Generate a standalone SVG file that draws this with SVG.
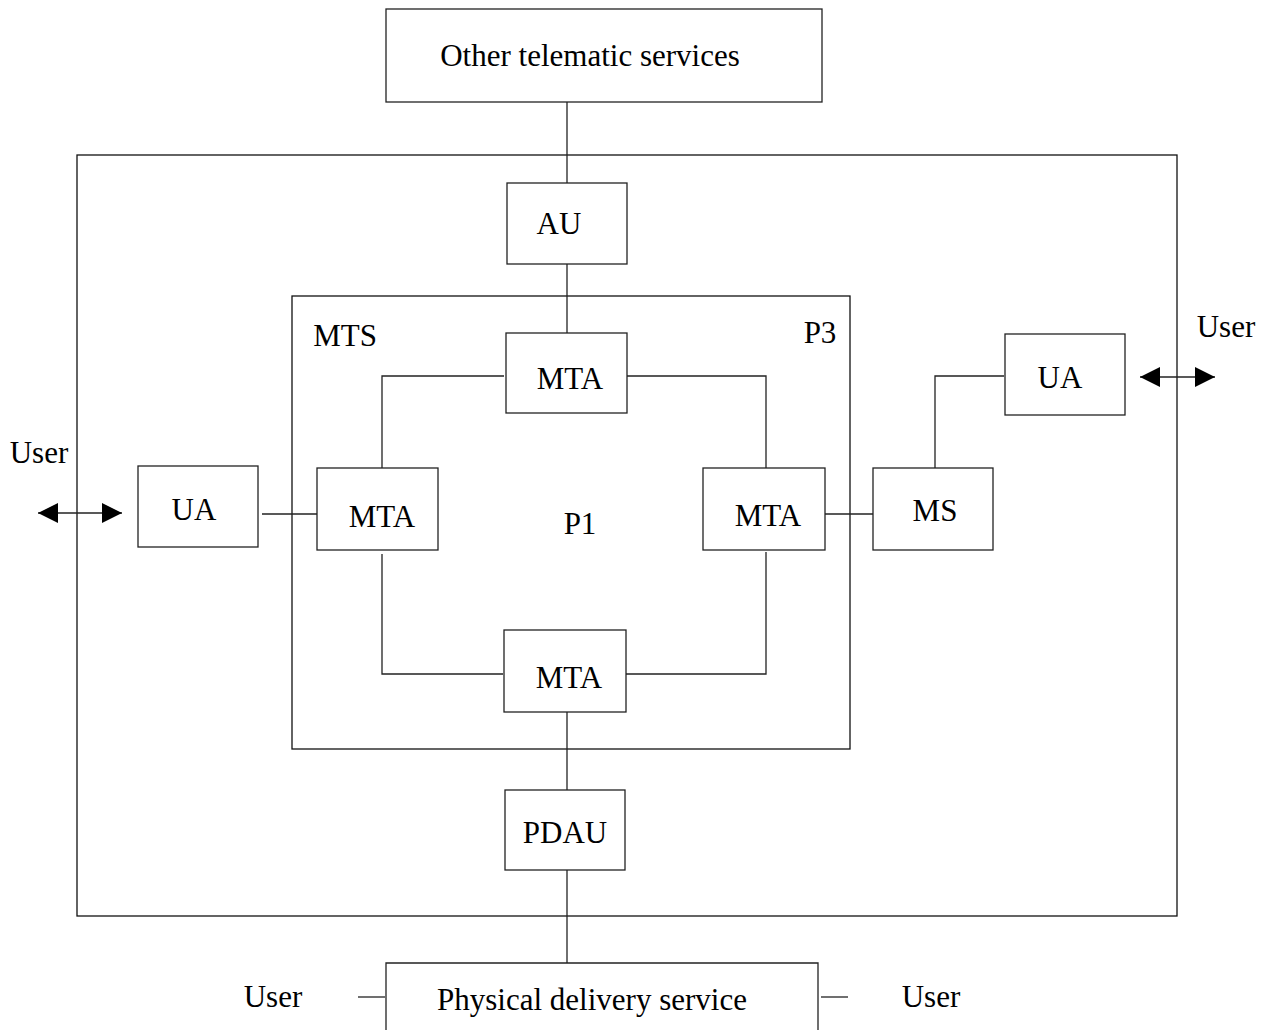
<svg xmlns="http://www.w3.org/2000/svg" width="1263" height="1030" viewBox="0 0 1263 1030">
  <style>
    .box { fill: #fff; stroke: #222; stroke-width: 1.3; }
    .frame { fill: none; stroke: #111; stroke-width: 1.3; }
    .wire { fill: none; stroke: #222; stroke-width: 1.3; }
    .lbl { font-family: "Liberation Serif", "Times New Roman", serif; font-size: 31px; fill: #000; text-anchor: middle; dominant-baseline: central; }
  </style>
  <defs>
    <marker id="tri" viewBox="0 0 10 10" refX="10" refY="5" markerWidth="20" markerHeight="20" markerUnits="userSpaceOnUse" orient="auto-start-reverse">
      <path d="M0,0 L10,5 L0,10 Z" fill="#000"/>
    </marker>
  </defs>

  <rect width="1263" height="1030" fill="#fff"/>

  <!-- enclosing frames -->
  <g id="outer-domain"><rect class="frame" x="77" y="155" width="1100" height="761"/></g>
  <g id="mts">
    <rect class="frame" x="292" y="296" width="558" height="453"/>
    <text class="lbl" x="345" y="335">MTS</text>
    <text class="lbl" x="820" y="332">P3</text>
    <text class="lbl" x="580" y="523">P1</text>
  </g>

  <!-- connectors -->
  <g id="connectors">
    <path class="wire" d="M567,102 V183"/>
    <path class="wire" d="M567,264 V333"/>
    <path class="wire" d="M504,376 H382 V468"/>
    <path class="wire" d="M625,376 H766 V468"/>
    <path class="wire" d="M382,554 V674 H503"/>
    <path class="wire" d="M766,552 V674 H625"/>
    <path class="wire" d="M567,712 V790"/>
    <path class="wire" d="M567,870 V963"/>
    <path class="wire" d="M262,514 H321"/>
    <path class="wire" d="M825,514 H875"/>
    <path class="wire" d="M935,468 V376 H1004"/>
    <path class="wire" d="M358,997 H385"/>
    <path class="wire" d="M821,997 H848"/>
    <path class="wire" d="M38,513 H122" marker-start="url(#tri)" marker-end="url(#tri)"/>
    <path class="wire" d="M1140,377 H1215" marker-start="url(#tri)" marker-end="url(#tri)"/>
  </g>

  <!-- nodes -->
  <g id="other-telematic"><rect class="box" x="386" y="9" width="436" height="93"/><text class="lbl" x="590" y="55">Other telematic services</text></g>
  <g id="au"><rect class="box" x="507" y="183" width="120" height="81"/><text class="lbl" x="559" y="223">AU</text></g>
  <g id="mta-top"><rect class="box" x="506" y="333" width="121" height="80"/><text class="lbl" x="570" y="378">MTA</text></g>
  <g id="mta-left"><rect class="box" x="317" y="468" width="121" height="82"/><text class="lbl" x="382" y="516">MTA</text></g>
  <g id="mta-right"><rect class="box" x="703" y="468" width="122" height="82"/><text class="lbl" x="768" y="515">MTA</text></g>
  <g id="mta-bottom"><rect class="box" x="504" y="630" width="122" height="82"/><text class="lbl" x="569" y="677">MTA</text></g>
  <g id="pdau"><rect class="box" x="505" y="790" width="120" height="80"/><text class="lbl" x="565" y="832">PDAU</text></g>
  <g id="ua-left"><rect class="box" x="138" y="466" width="120" height="81"/><text class="lbl" x="194" y="509">UA</text></g>
  <g id="ua-right"><rect class="box" x="1005" y="334" width="120" height="81"/><text class="lbl" x="1060" y="377">UA</text></g>
  <g id="ms"><rect class="box" x="873" y="468" width="120" height="82"/><text class="lbl" x="935" y="510">MS</text></g>
  <g id="physical-delivery"><path class="box" d="M386,1031 V963 H818 V1031"/><text class="lbl" x="592" y="999">Physical delivery service</text></g>

  <!-- users -->
  <g id="user-left"><text class="lbl" x="39" y="452">User</text></g>
  <g id="user-right"><text class="lbl" x="1226" y="326">User</text></g>
  <g id="user-bottom-left"><text class="lbl" x="273" y="996">User</text></g>
  <g id="user-bottom-right"><text class="lbl" x="931" y="996">User</text></g>
</svg>
